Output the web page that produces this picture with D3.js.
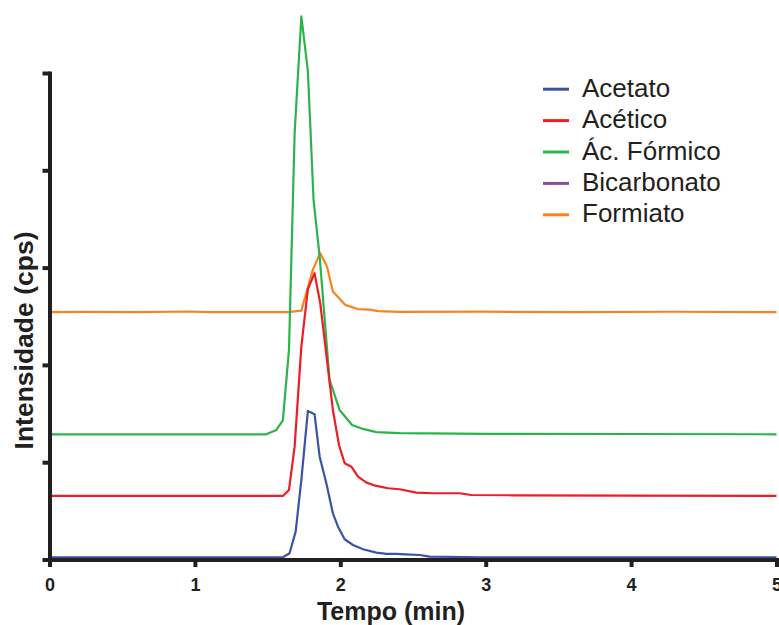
<!DOCTYPE html>
<html>
<head>
<meta charset="utf-8">
<script src="https://cdn.jsdelivr.net/npm/d3@7/dist/d3.min.js"></script>
<style>
  html, body { margin: 0; padding: 0; background: #ffffff; }
  svg { display: block; }
</style>
</head>
<body>
<svg id="chart" width="779" height="625"></svg>
<script>
// Chromatogram traces: [time (min), intensity (stacked arbitrary units)]
const acetato = [
  [0, 0.022], [1.605, 0.023], [1.651, 0.064], [1.693, 0.286], [1.732, 0.817],
  [1.777, 1.527], [1.823, 1.493], [1.858, 1.057], [1.904, 0.784], [1.949, 0.475],
  [1.984, 0.337], [2.030, 0.208], [2.087, 0.149], [2.156, 0.105], [2.248, 0.070],
  [2.317, 0.057], [2.386, 0.057], [2.450, 0.052], [2.546, 0.046], [2.614, 0.029],
  [2.958, 0.023], [5, 0.022]
];
const acetico = [
  [0, 0.653], [1.605, 0.653], [1.647, 0.715], [1.686, 1.160], [1.732, 2.188],
  [1.777, 2.778], [1.823, 2.943], [1.862, 2.634], [1.892, 2.257], [1.949, 1.537],
  [1.991, 1.177], [2.030, 0.989], [2.076, 0.954], [2.122, 0.851], [2.180, 0.790],
  [2.248, 0.756], [2.328, 0.732], [2.408, 0.722], [2.523, 0.687], [2.637, 0.681],
  [2.821, 0.681], [2.901, 0.663], [3.188, 0.660], [4.0, 0.657], [5, 0.653]
];
const acFormico = [
  [0, 1.287], [1.491, 1.287], [1.560, 1.332], [1.605, 1.429], [1.647, 2.154],
  [1.686, 4.383], [1.732, 5.581], [1.777, 5.023], [1.816, 3.697], [1.858, 3.114],
  [1.926, 1.846], [1.995, 1.537], [2.081, 1.383], [2.156, 1.342], [2.248, 1.309],
  [2.408, 1.298], [3.0, 1.292], [4.0, 1.290], [5, 1.287]
];
const bicarbonato = [];
const formiato = [
  [0, 2.542], [0.25, 2.545], [0.6, 2.542], [0.95, 2.549], [1.1, 2.542],
  [1.640, 2.542], [1.732, 2.558], [1.812, 2.982], [1.862, 3.147], [1.908, 3.015],
  [1.949, 2.754], [2.033, 2.617], [2.121, 2.574], [2.202, 2.568], [2.259, 2.553],
  [2.408, 2.545], [3.0, 2.547], [3.6, 2.543], [4.3, 2.546], [5, 2.542]
];

const seriesNames = ["Acetato", "Acético", "Ác. Fórmico", "Bicarbonato", "Formiato"];
const seriesData = [acetato, acetico, acFormico, bicarbonato, formiato];
const seriesColors = ["#3a54a4", "#ee1c25", "#2db34b", "#8a4d9e", "#f7841f"];

const xTicks = [0, 1, 2, 3, 4, 5];
const yTicks = [0, 1, 2, 3, 4, 5];
const xTitle = "Tempo (min)";
const yTitle = "Intensidade (cps)";

const ink = "#231f20";
const fontStack = "'Liberation Sans', Arial, Helvetica, sans-serif";
const svg = d3.select("#chart");

const x = d3.scaleLinear().domain([0, 5]).range([49.5, 776.5]);
const y = d3.scaleLinear().domain([0, 5]).range([559.5, 73]);

// traces, drawn so that Acetato ends up on top
const line = d3.line().x(d => x(d[0])).y(d => y(d[1]));
const order = [4, 2, 1, 3, 0];
svg.append("g").selectAll("path")
  .data(order.filter(i => seriesData[i].length))
  .join("path")
  .attr("d", i => line(seriesData[i]))
  .attr("fill", "none")
  .attr("stroke", i => seriesColors[i])
  .attr("stroke-width", 2.2)
  .attr("stroke-linejoin", "round");

// x axis
const xAxis = svg.append("g")
  .attr("transform", `translate(0,${y(0)})`)
  .call(d3.axisBottom(x).tickValues(xTicks).tickFormat(d3.format("d"))
    .tickSize(7.5).tickSizeOuter(0))
  .attr("font-family", fontStack)
  .attr("font-size", 18)
  .attr("font-weight", "bold");
xAxis.select(".domain").attr("stroke", ink).attr("stroke-width", 4)
  .attr("stroke-linecap", "square");
xAxis.selectAll(".tick line").attr("stroke", ink).attr("stroke-width", 4);
xAxis.selectAll(".tick text")
  .attr("y", 31).attr("dy", 0)
  .attr("fill", ink)
  .attr("font-size", 18)
  .attr("font-weight", "bold");

// y axis (no labels)
const yAxis = svg.append("g")
  .attr("transform", `translate(${x(0)},0)`)
  .call(d3.axisLeft(y).tickValues(yTicks).tickFormat("")
    .tickSize(7).tickSizeOuter(0));
yAxis.select(".domain").attr("stroke", ink).attr("stroke-width", 4)
  .attr("stroke-linecap", "square");
yAxis.selectAll(".tick line").attr("stroke", ink).attr("stroke-width", 4);

// axis titles
svg.append("text")
  .attr("x", 391).attr("y", 620)
  .attr("text-anchor", "middle")
  .attr("fill", ink)
  .attr("font-family", fontStack)
  .attr("font-size", 25).attr("font-weight", "bold")
  .text(xTitle);

svg.append("text")
  .attr("transform", "translate(32.5,340.5) rotate(-90)")
  .attr("text-anchor", "middle")
  .attr("fill", ink)
  .attr("font-family", fontStack)
  .attr("font-size", 26.5).attr("font-weight", "bold")
  .text(yTitle);

// legend
const legend = svg.append("g").selectAll("g")
  .data(seriesNames)
  .join("g")
  .attr("transform", (d, i) => `translate(0,${96.7 + i * 31.4})`);
legend.append("line")
  .attr("x1", 543).attr("x2", 569)
  .attr("y1", -7.5).attr("y2", -7.5)
  .attr("stroke", (d, i) => seriesColors[i])
  .attr("stroke-width", 3);
legend.append("text")
  .attr("x", 582).attr("y", 0)
  .attr("fill", ink)
  .attr("font-family", fontStack)
  .attr("font-size", 26)
  .text(d => d);
</script>
</body>
</html>
